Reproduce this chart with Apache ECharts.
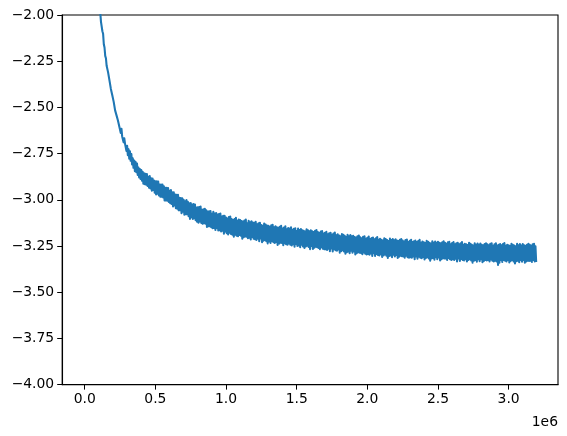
<!DOCTYPE html>
<html>
<head>
<meta charset="utf-8">
<script src="https://cdn.jsdelivr.net/npm/echarts@6/dist/echarts.min.js"></script>
<style>
html,body{margin:0;padding:0;background:#fff;}
#chart{width:567px;height:436px;}
</style>
</head>
<body>
<div id="chart"></div>
<script>
// training step spacing between recorded values
const stepSize = 5000;
const lossValues = [
 -0.80, -0.87, -0.93, -1.00, -1.06, -1.13, -1.19, -1.25, -1.31, -1.37,
 -1.425, -1.487, -1.524, -1.586, -1.627, -1.684, -1.726, -1.788, -1.824, -1.885,
 -1.918, -1.970, -1.987, -2.037, -2.045, -2.088, -2.102, -2.158, -2.176, -2.221,
 -2.234, -2.275, -2.271, -2.309, -2.310, -2.354, -2.363, -2.400, -2.397, -2.434,
 -2.435, -2.470, -2.472, -2.516, -2.508, -2.543, -2.534, -2.571, -2.562, -2.605,
 -2.607, -2.638, -2.616, -2.657, -2.649, -2.689, -2.667, -2.696, -2.694, -2.735,
 -2.708, -2.759, -2.726, -2.778, -2.738, -2.789, -2.753, -2.809, -2.776, -2.827,
 -2.787, -2.845, -2.795, -2.851, -2.804, -2.866, -2.825, -2.879, -2.833, -2.887,
 -2.839, -2.897, -2.849, -2.913, -2.857, -2.915, -2.859, -2.918, -2.861, -2.925,
 -2.875, -2.935, -2.872, -2.938, -2.883, -2.951, -2.885, -2.947, -2.896, -2.961,
 -2.900, -2.971, -2.900, -2.967, -2.901, -2.976, -2.917, -2.983, -2.918, -2.983,
 -2.918, -2.987, -2.927, -3.004, -2.935, -3.004, -2.935, -3.005, -2.936, -3.012,
 -2.951, -3.019, -2.947, -3.023, -2.959, -3.036, -2.960, -3.031, -2.972, -3.045,
 -2.973, -3.048, -2.973, -3.057, -2.989, -3.056, -2.990, -3.072, -2.992, -3.065,
 -3.000, -3.081, -3.008, -3.078, -3.001, -3.078, -3.011, -3.089, -3.019, -3.103,
 -3.018, -3.094, -3.026, -3.104, -3.023, -3.099, -3.025, -3.110, -3.042, -3.118,
 -3.041, -3.124, -3.039, -3.117, -3.036, -3.125, -3.054, -3.130, -3.051, -3.127,
 -3.049, -3.129, -3.057, -3.147, -3.064, -3.143, -3.062, -3.143, -3.061, -3.148,
 -3.076, -3.154, -3.065, -3.153, -3.075, -3.163, -3.071, -3.153, -3.080, -3.166,
 -3.077, -3.164, -3.075, -3.171, -3.090, -3.167, -3.087, -3.183, -3.087, -3.172,
 -3.096, -3.181, -3.101, -3.188, -3.093, -3.178, -3.090, -3.185, -3.104, -3.189,
 -3.110, -3.200, -3.104, -3.189, -3.098, -3.194, -3.113, -3.197, -3.107, -3.190,
 -3.109, -3.194, -3.115, -3.210, -3.118, -3.203, -3.112, -3.198, -3.107, -3.200,
 -3.127, -3.208, -3.114, -3.205, -3.122, -3.214, -3.116, -3.201, -3.123, -3.211,
 -3.125, -3.213, -3.119, -3.217, -3.132, -3.210, -3.127, -3.224, -3.124, -3.209,
 -3.137, -3.230, -3.141, -3.222, -3.129, -3.217, -3.134, -3.224, -3.139, -3.236,
 -3.141, -3.226, -3.146, -3.233, -3.138, -3.223, -3.135, -3.230, -3.149, -3.234,
 -3.143, -3.228, -3.149, -3.244, -3.152, -3.237, -3.146, -3.232, -3.141, -3.234,
 -3.156, -3.246, -3.150, -3.235, -3.144, -3.240, -3.159, -3.243, -3.153, -3.236,
 -3.155, -3.243, -3.149, -3.247, -3.162, -3.240, -3.157, -3.254, -3.154, -3.239,
 -3.169, -3.250, -3.156, -3.247, -3.164, -3.256, -3.158, -3.243, -3.165, -3.253,
 -3.168, -3.261, -3.172, -3.253, -3.160, -3.248, -3.165, -3.255, -3.170, -3.267,
 -3.165, -3.250, -3.171, -3.266, -3.174, -3.259, -3.168, -3.254, -3.163, -3.256,
 -3.175, -3.260, -3.180, -3.267, -3.172, -3.257, -3.169, -3.264, -3.183, -3.268,
 -3.179, -3.267, -3.173, -3.271, -3.186, -3.264, -3.181, -3.278, -3.178, -3.263,
 -3.189, -3.279, -3.183, -3.268, -3.177, -3.273, -3.192, -3.276, -3.186, -3.269,
 -3.193, -3.286, -3.197, -3.278, -3.185, -3.273, -3.190, -3.280, -3.195, -3.292,
 -3.202, -3.283, -3.189, -3.280, -3.197, -3.289, -3.191, -3.276, -3.198, -3.286,
 -3.195, -3.280, -3.201, -3.296, -3.204, -3.289, -3.198, -3.284, -3.193, -3.286,
 -3.203, -3.288, -3.208, -3.295, -3.200, -3.285, -3.197, -3.292, -3.211, -3.296,
 -3.205, -3.293, -3.199, -3.297, -3.212, -3.290, -3.207, -3.304, -3.204, -3.289,
 -3.214, -3.304, -3.208, -3.293, -3.202, -3.298, -3.217, -3.301, -3.211, -3.294,
 -3.216, -3.309, -3.220, -3.301, -3.208, -3.296, -3.213, -3.303, -3.218, -3.315,
 -3.223, -3.304, -3.210, -3.301, -3.218, -3.310, -3.212, -3.297, -3.219, -3.307,
 -3.214, -3.299, -3.220, -3.315, -3.223, -3.308, -3.217, -3.303, -3.212, -3.305,
 -3.221, -3.306, -3.226, -3.313, -3.218, -3.303, -3.215, -3.310, -3.229, -3.314,
 -3.222, -3.310, -3.216, -3.314, -3.229, -3.307, -3.224, -3.321, -3.221, -3.306,
 -3.229, -3.319, -3.223, -3.308, -3.217, -3.313, -3.232, -3.316, -3.226, -3.309,
 -3.230, -3.323, -3.234, -3.315, -3.222, -3.310, -3.227, -3.317, -3.232, -3.329,
 -3.237, -3.318, -3.224, -3.315, -3.232, -3.324, -3.226, -3.311, -3.233, -3.321,
 -3.227, -3.312, -3.233, -3.328, -3.236, -3.321, -3.230, -3.316, -3.225, -3.318,
 -3.233, -3.318, -3.238, -3.325, -3.230, -3.315, -3.227, -3.322, -3.241, -3.326,
 -3.234, -3.322, -3.228, -3.326, -3.241, -3.319, -3.236, -3.333, -3.233, -3.318,
 -3.241, -3.331, -3.235, -3.320, -3.229, -3.325, -3.244, -3.328, -3.238, -3.321,
 -3.241, -3.334, -3.245, -3.326, -3.233, -3.321, -3.238, -3.328, -3.243, -3.340,
 -3.248, -3.329, -3.235, -3.326, -3.243, -3.335, -3.237, -3.322, -3.244, -3.332,
 -3.237, -3.322, -3.243, -3.338, -3.246, -3.331, -3.240, -3.326, -3.235, -3.328,
 -3.241, -3.326, -3.246, -3.333, -3.238, -3.323, -3.235, -3.330, -3.249, -3.334,
 -3.241, -3.329, -3.235, -3.333, -3.248, -3.352, -3.243, -3.340, -3.240, -3.325,
 -3.246, -3.336, -3.240, -3.325, -3.234, -3.330, -3.249, -3.333, -3.243, -3.326,
 -3.246, -3.339, -3.250, -3.331, -3.238, -3.326, -3.243, -3.333, -3.248, -3.345,
 -3.251, -3.332, -3.238, -3.329, -3.246, -3.338, -3.240, -3.325, -3.247, -3.335,
 -3.240, -3.325, -3.246, -3.341, -3.249, -3.334, -3.243, -3.329, -3.238, -3.331,
 -3.244, -3.329, -3.249, -3.336, -3.241, -3.326, -3.238, -3.333, -3.252, -3.337
];
// x tick positions (in steps); y ticks every 0.25 from -4 to -2
const xTicks = [0, 500000, 1000000, 1500000, 2000000, 2500000, 3000000];
const yMin = -4, yMax = -2, yStep = 0.25;
const xOffsetLabel = '1e6';

const seriesData = lossValues.map((v, i) => [i * stepSize, v]);

const chart = echarts.init(document.getElementById('chart'), null, {renderer: 'canvas'});
const font = 'DejaVu Sans';
const fs = 13.9;
const fmtNum = (v, d) => (v < 0 ? '\u2212' : '') + Math.abs(v).toFixed(d);

chart.setOption({
  animation: false,
  grid: {
    left: 62.2, right: 9, top: 15, bottom: 51.4,
    show: true, borderColor: '#000', borderWidth: 1.1
  },
  xAxis: {
    type: 'value',
    min: -159500, max: 3349500,
    axisLine: {show: true, onZero: false, lineStyle: {color: '#000', width: 1.1}},
    splitLine: {show: false},
    axisTick: {show: true, length: 5, lineStyle: {color: '#000', width: 1}, customValues: xTicks},
    axisLabel: {
      color: '#000', fontFamily: font, fontSize: fs,
      customValues: xTicks,
      formatter: v => fmtNum(v / 1e6, 1)
    }
  },
  yAxis: {
    type: 'value',
    min: yMin, max: yMax, interval: yStep,
    axisLine: {show: true, onZero: false, lineStyle: {color: '#000', width: 1.1}},
    splitLine: {show: false},
    axisTick: {show: true, length: 5, lineStyle: {color: '#000', width: 1}},
    axisLabel: {
      color: '#000', fontFamily: font, fontSize: fs,
      formatter: v => fmtNum(v, 2)
    }
  },
  graphic: [{
    type: 'text',
    right: 9, top: 415,
    style: {text: xOffsetLabel, fill: '#000', font: fs + 'px "' + font + '"', textAlign: 'right'}
  }],
  series: [{
    type: 'line',
    data: seriesData,
    showSymbol: false,
    symbol: 'none',
    clip: true,
    sampling: null,
    lineStyle: {color: '#1f77b4', width: 2.08, join: 'round', cap: 'butt'}
  }]
});
</script>
</body>
</html>
